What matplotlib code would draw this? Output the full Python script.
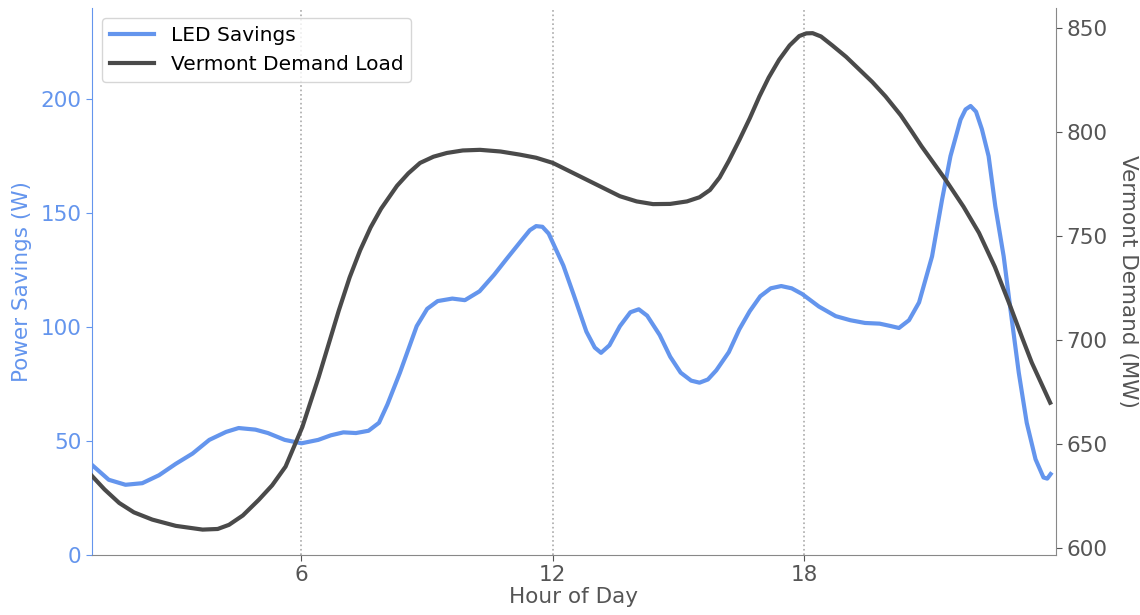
import matplotlib.pyplot as plt

# LED savings (W)
led_hours = [1.0, 1.4, 1.8, 2.2, 2.6, 3.0, 3.4, 3.8, 4.2, 4.5, 4.9, 5.2, 5.6, 6.0,
             6.4, 6.7, 7.0, 7.3, 7.6, 7.85, 8.05, 8.35, 8.75, 9.0, 9.25, 9.6, 9.9, 10.25,
             10.6, 10.9, 11.25, 11.45, 11.6, 11.75, 11.9, 12.05, 12.25, 12.5, 12.8, 13.0,
             13.15, 13.35, 13.6, 13.85, 14.05, 14.25, 14.55, 14.8, 15.05, 15.3, 15.5,
             15.7, 15.9, 16.2, 16.45, 16.7, 16.95, 17.2, 17.45, 17.7, 17.95, 18.35, 18.75,
             19.1, 19.45, 19.8, 20.05, 20.26, 20.5, 20.74, 21.05, 21.29, 21.49, 21.73,
             21.85, 21.97, 22.1, 22.24, 22.4, 22.56, 22.76, 22.92, 23.12, 23.31, 23.52,
             23.71, 23.8, 23.88]
led_savings = [39.5, 33, 30.8, 31.5, 35, 40, 44.5, 50.5, 54, 55.7, 55, 53.5, 50.5, 49,
               50.5, 52.5, 53.8, 53.5, 54.5, 58, 66, 80, 100.4, 108, 111.4, 112.5, 111.8,
               115.7, 123, 130, 138, 142.5, 144.3, 144, 141, 135, 127, 114, 98, 91,
               88.7, 92, 100.4, 106.5, 107.8, 105, 96.5, 87, 80, 76.5, 75.6, 77, 81, 89,
               99, 107, 113.5, 117, 118, 117, 114.5, 109, 104.8, 103, 101.8, 101.5,
               100.5, 99.6, 103, 110.8, 131, 156, 175, 191, 195.5, 197, 194.5, 186.8,
               175, 153, 131, 108, 80, 58, 42, 34, 33.5, 35.5]

# Vermont demand load (MW)
vt_hours = [1.0, 1.3, 1.65, 2.0, 2.44, 3.0, 3.64, 4.0, 4.27, 4.6, 4.98, 5.3, 5.62,
            6.02, 6.41, 6.89, 7.15, 7.4, 7.65, 7.9, 8.28, 8.55, 8.83, 9.15, 9.47, 9.85,
            10.26, 10.75, 11.21, 11.6, 12.0, 12.4, 12.8, 13.2, 13.6, 14.0, 14.39, 14.8,
            15.2, 15.5, 15.75, 15.98, 16.2, 16.45, 16.7, 16.93, 17.15, 17.4, 17.65,
            17.88, 18.05, 18.2, 18.4, 18.67, 19.0, 19.31, 19.62, 19.94, 20.3, 20.57,
            20.8, 21.05, 21.37, 21.8, 22.17, 22.55, 22.92, 23.2, 23.43, 23.87]
vt_demand = [634.5, 628, 621.5, 617, 613.5, 610.5, 608.7, 609, 611, 615.5, 623, 630,
             639, 658, 682, 714, 730, 743, 754, 763, 774, 780, 785, 788, 789.8, 791,
             791.3, 790.5, 789, 787.5, 785, 781, 777, 773, 769, 766.5, 765.2, 765.3,
             766.5, 768.5, 772, 778, 786, 796, 806.5, 817, 826, 834.6, 841.5, 846,
             847.3, 847.4, 845.8, 841.5, 836, 830, 824, 817, 808, 800, 793, 786, 777,
             764, 751.4, 735, 716, 701, 689, 669.7]

blue = '#6495ED'
dark = '#4a4a4a'
grey = '#555555'

fig = plt.figure(figsize=(11.4, 6.15), dpi=100)
ax = fig.add_axes([0.0807, 0.0976, 0.8453, 0.8894])
ax2 = ax.twinx()

l1, = ax.plot(led_hours, led_savings, color=blue, lw=3, label='LED Savings')
l2, = ax2.plot(vt_hours, vt_demand, color=dark, lw=3, label='Vermont Demand Load')

ax.set_xlim(1, 24)
ax.set_ylim(0, 240)
ax2.set_ylim(596.5, 859.5)

ax.set_xticks([6, 12, 18])
ax.set_yticks([0, 50, 100, 150, 200])
ax2.set_yticks([600, 650, 700, 750, 800, 850])
ax.xaxis.grid(True, linestyle=':', color='#aaaaaa', lw=1.2)

ax.set_xlabel('Hour of Day', fontsize=15.5, color=grey, labelpad=1)
ax.set_ylabel('Power Savings (W)', fontsize=15.5, color=blue, labelpad=6)
ax2.set_ylabel('Vermont Demand (MW)', fontsize=15.5, color=grey, rotation=270, labelpad=22)

ax.tick_params(axis='x', colors=grey, labelsize=15.5, length=4)
ax.tick_params(axis='y', colors=blue, labelsize=15.5, length=4)
ax2.tick_params(axis='y', colors=grey, labelsize=15.5, length=4)

for a in (ax, ax2):
    a.spines['top'].set_visible(False)
ax.spines['right'].set_visible(False)
ax.spines['left'].set_color(blue)
ax.spines['bottom'].set_color('#888888')
ax2.spines['left'].set_visible(False)
ax2.spines['bottom'].set_visible(False)
ax2.spines['right'].set_color('#888888')

ax2.legend(handles=[l1, l2], loc='upper left', fontsize=14.5, frameon=True,
           edgecolor='#cccccc', bbox_to_anchor=(0.0, 1.0), borderaxespad=0.5,
           handlelength=2.2)

plt.savefig('out.png', dpi=100)
